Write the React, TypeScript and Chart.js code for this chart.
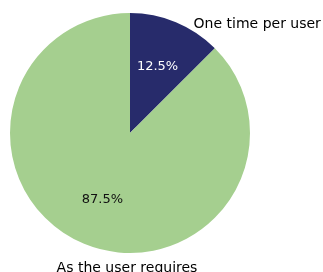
import React, { useEffect, useRef } from "react";
import { Chart, registerables } from "chart.js";

Chart.register(...registerables);

const categories = ["One time per user", "As the user requires"];
const values = [12.5, 87.5];
const percentLabels = ["12.5%", "87.5%"];
const sliceColors = ["#272b6b", "#a5cf8f"];
const percentColors = ["#ffffff", "#111111"];

// outer label placement, relative to pie centre in units of radius
const outerLabelLayout = [
  { fx: 0.53, fy: -0.875, align: "left" as CanvasTextAlign },
  { fx: -0.025, fy: 1.158, align: "center" as CanvasTextAlign },
];

const PCT_FONT = '13px "DejaVu Sans", Verdana, sans-serif';
const LABEL_FONT = '14px "DejaVu Sans", Verdana, sans-serif';

const labelPlugin = {
  id: "pieLabels",
  afterDatasetsDraw(chart: any) {
    const ctx: CanvasRenderingContext2D = chart.ctx;
    const meta = chart.getDatasetMeta(0);
    ctx.save();
    meta.data.forEach((arc: any, i: number) => {
      const { x, y, startAngle, endAngle, outerRadius } = arc.getProps(
        ["x", "y", "startAngle", "endAngle", "outerRadius"],
        true
      );
      const mid = (startAngle + endAngle) / 2;
      // percentage inside
      ctx.font = PCT_FONT;
      ctx.fillStyle = percentColors[i];
      ctx.textAlign = "center";
      ctx.textBaseline = "middle";
      ctx.fillText(
        percentLabels[i],
        x + Math.cos(mid) * outerRadius * 0.6,
        y + Math.sin(mid) * outerRadius * 0.6
      );
      // category label outside
      const l = outerLabelLayout[i];
      ctx.font = LABEL_FONT;
      ctx.fillStyle = "#000000";
      ctx.textAlign = l.align;
      ctx.textBaseline = "alphabetic";
      ctx.fillText(categories[i], x + l.fx * outerRadius, y + l.fy * outerRadius);
    });
    ctx.restore();
  },
};

export default function App() {
  const ref = useRef<HTMLCanvasElement | null>(null);
  useEffect(() => {
    const chart = new Chart(ref.current as HTMLCanvasElement, {
      type: "pie",
      data: {
        labels: categories,
        datasets: [
          {
            data: values,
            backgroundColor: sliceColors,
            borderWidth: 0,
          },
        ],
      },
      options: {
        animation: false,
        responsive: false,
        layout: { padding: { left: 10, top: 13, right: 73, bottom: 19 } },
        plugins: {
          legend: { display: false },
          tooltip: { enabled: false },
        },
      },
      plugins: [labelPlugin],
    });
    return () => chart.destroy();
  }, []);
  return (
    <div style={{ position: "fixed", left: 0, top: 0, width: 323, height: 272, background: "#fff" }}>
      <canvas ref={ref} width={323} height={272} style={{ display: "block" }} />
    </div>
  );
}
